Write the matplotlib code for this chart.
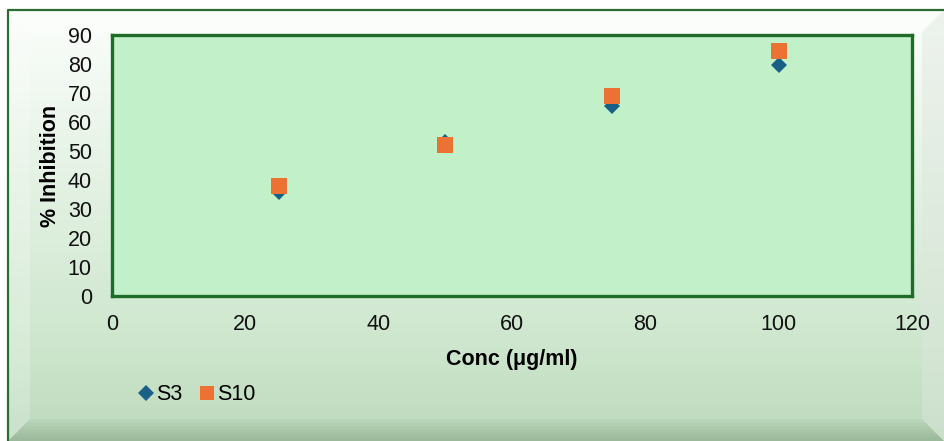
import numpy as np
import matplotlib.pyplot as plt
from matplotlib.patches import Polygon
from matplotlib.lines import Line2D

# Concentrations and % inhibition for the two samples
conc = [25, 50, 75, 100]
s3 = [36, 53, 65.5, 79.5]
s10 = [38, 52, 69, 84.5]
series_names = ["S3", "S10"]
x_ticks = [0, 20, 40, 60, 80, 100, 120]
y_ticks = [0, 10, 20, 30, 40, 50, 60, 70, 80, 90]

plt.rcParams['font.family'] = ['Liberation Sans', 'DejaVu Sans']

W, H = 944, 441
fig = plt.figure(figsize=(W / 100, H / 100), dpi=100)
fig.patch.set_facecolor('white')

# Background canvas in pixel coordinates
bg = fig.add_axes([0, 0, 1, 1], zorder=0)
bg.set_xlim(0, W)
bg.set_ylim(H, 0)
bg.axis('off')

# Chart panel: vertical gradient from near white to soft green
x0, y0 = 8, 10
ny = 200
t = np.linspace(0, 1, ny)[:, None]
top = np.array([0.985, 0.995, 0.985])
mid = np.array([0.80, 0.90, 0.80])
bot = np.array([0.74, 0.85, 0.74])
grad = np.where(t < 0.8, top + (mid - top) * (t / 0.8), mid + (bot - mid) * ((t - 0.8) / 0.2))
img = np.repeat(grad[:, None, :], 2, axis=1).reshape(ny, 2, 3)
bg.imshow(img, extent=[x0, W, H, y0], aspect='auto', interpolation='bilinear', zorder=0)

# Soft bevel edges of the panel, drawn as stacked translucent bands
bw = 22
steps = 6
for k in range(steps):
    d = bw * (k + 1) / steps
    a = 0.05
    bg.add_patch(Polygon([[x0, H], [x0 + d, H - d], [W - d, H - d], [W, H]],
                         closed=True, facecolor='#4f6f4f', alpha=a, edgecolor='none', zorder=1))
bg.add_patch(Polygon([[x0, y0], [x0 + bw, y0 + bw], [x0 + bw, H - bw], [x0, H]],
                     closed=True, facecolor='white', alpha=0.22, edgecolor='none', zorder=1))
bg.add_patch(Polygon([[W, y0], [W - bw, y0 + bw], [W - bw, H - bw], [W, H]],
                     closed=True, facecolor='#dfe6df', alpha=0.45, edgecolor='none', zorder=1))
bg.add_patch(Polygon([[x0, y0], [W, y0], [W - bw, y0 + bw], [x0 + bw, y0 + bw]],
                     closed=True, facecolor='white', alpha=0.4, edgecolor='none', zorder=1))
bg.plot([x0, x0, W], [H, y0, y0], color='#2e6b30', lw=1.6, zorder=2, solid_capstyle='butt')

# Plot area
L, R, T, B = 112, 912, 35, 296
ax = fig.add_axes([L / W, 1 - B / H, (R - L) / W, (B - T) / H], zorder=2)
ax.set_facecolor('#c2f0c8')
ax.set_xlim(0, 120)
ax.set_ylim(0, 90)
ax.set_xticks(x_ticks)
ax.set_yticks(y_ticks)
ax.tick_params(length=0, labelsize=15.5, colors='#111111')
ax.tick_params(axis='x', pad=13)
ax.tick_params(axis='y', pad=14.5)
for sp in ax.spines.values():
    sp.set_color('#1f6b28')
    sp.set_linewidth(2.4)

ax.plot(conc, s3, linestyle='none', marker='D', markersize=8.5,
        color='#1a5f86', markeredgewidth=0, label=series_names[0], zorder=3)
ax.plot(conc, s10, linestyle='none', marker='s', markersize=12,
        color='#ec7233', markeredgewidth=0, label=series_names[1], zorder=4)

ax.set_xlabel('Conc (μg/ml)', fontsize=15.5, fontweight='bold', labelpad=10)
ax.set_ylabel('% Inhibition', fontsize=15.5, fontweight='bold', labelpad=4.5)

handles = [Line2D([], [], linestyle='none', marker='D', markersize=8, color='#1a5f86', markeredgewidth=0),
           Line2D([], [], linestyle='none', marker='s', markersize=10.5, color='#ec7233', markeredgewidth=0)]
fig.legend(handles, series_names, loc='center', bbox_to_anchor=(198 / W, 1 - 395 / H),
           ncol=2, frameon=False, fontsize=15.5, handlelength=0.5, handletextpad=0.2,
           columnspacing=0.9)

fig.savefig('out.png', dpi=100)
